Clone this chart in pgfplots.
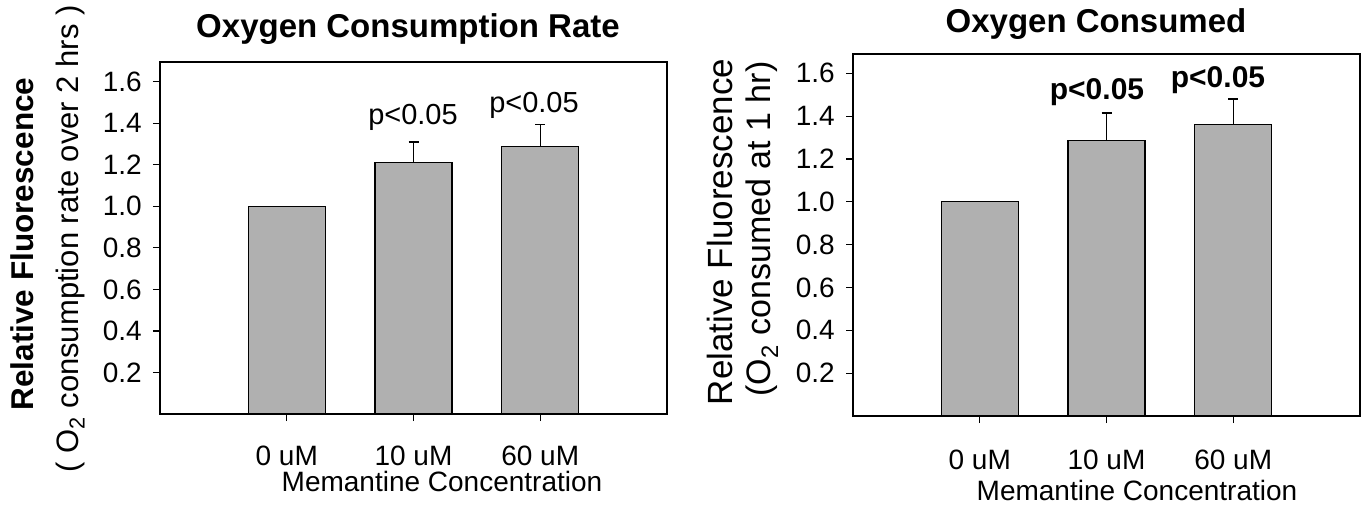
\documentclass[border=0pt]{standalone}
\usepackage{fontspec}
\setmainfont{Liberation Sans}
\usepackage{pgfplots}
\pgfplotsset{compat=1.18}
\definecolor{barg}{RGB}{176,176,176}
\begin{document}
\begin{tikzpicture}[x=1pt,y=1pt]
\path[use as bounding box] (0,0) rectangle (1363,504);
\pgfplotsset{
 myax/.style={
  scale only axis, anchor=south west, width=507pt,
  xmin=0, xmax=4, ymin=0,
  xtick={1,2,3}, xticklabels={0 uM,10 uM,60 uM},
  ytick={0.2,0.4,0.6,0.8,1.0,1.2,1.4,1.6},
  /pgf/number format/assume math mode=true,
  yticklabel style={/pgf/number format/fixed, /pgf/number format/fixed zerofill, /pgf/number format/precision=1, font=\fontsize{28}{28}\selectfont, inner sep=0pt, anchor=east, xshift=-11pt},
  xticklabel style={font=\fontsize{28}{28}\selectfont, inner sep=0pt, anchor=base},
  tick align=outside, xtick pos=bottom, ytick pos=left,
  major tick length=7pt,
  axis line style={line width=1.5pt},
  tick style={line width=1.2pt, black},
  clip=false,
 },
 mybar/.style={ybar, bar width=77pt, fill=barg, draw=black, line width=1.2pt,
  error bars/.cd, y dir=plus, y explicit,
  error bar style={line width=1.2pt, black},
  error mark options={rotate=90, mark size=5pt, line width=1.2pt, black}},
}
\begin{axis}[myax, at={(160pt,90pt)}, height=352pt, ymax=1.695,
  xticklabel style={yshift=-44pt}]
\addplot[mybar] coordinates {(1,1.00) +- (0,0) (2,1.21) +- (0,0.10) (3,1.29) +- (0,0.105)};
\end{axis}
\begin{axis}[myax, at={(853pt,88pt)}, height=362pt, ymax=1.69,
  xticklabel style={yshift=-46pt}]
\addplot[mybar] coordinates {(1,1.00) +- (0,0) (2,1.285) +- (0,0.13) (3,1.36) +- (0,0.12)};
\end{axis}
% titles
\node[anchor=base, font=\bfseries\fontsize{33}{33}\selectfont] at (408,466) {Oxygen Consumption Rate};
\node[anchor=base, font=\bfseries\fontsize{33}{33}\selectfont] at (1096,471) {Oxygen Consumed};
% y labels
\node[rotate=90, anchor=base, font=\bfseries\fontsize{31.5}{31.5}\selectfont] at (33,260) {Relative Fluorescence};
\node[rotate=90, anchor=base, font=\fontsize{31}{31}\selectfont] at (78,265) {( O\textsubscript{2} consumption rate over 2 hrs )};
\node[rotate=90, anchor=base, font=\fontsize{35}{35}\selectfont] at (732,272) {Relative Fluorescence};
\node[rotate=90, anchor=base, font=\fontsize{34}{34}\selectfont] at (770,275) {(O\textsubscript{2} consumed at 1 hr)};
% x labels
\node[anchor=base, font=\fontsize{28}{28}\selectfont] at (442,13) {Memantine Concentration};
\node[anchor=base, font=\fontsize{28}{28}\selectfont] at (1137,4) {Memantine Concentration};
% significance
\node[anchor=base, font=\fontsize{29}{29}\selectfont] at (413,379) {p<0.05};
\node[anchor=base, font=\fontsize{29}{29}\selectfont] at (534,391) {p<0.05};
\node[anchor=base, font=\bfseries\fontsize{30}{30}\selectfont] at (1097,404) {p<0.05};
\node[anchor=base, font=\bfseries\fontsize{30}{30}\selectfont] at (1218,416) {p<0.05};
\end{tikzpicture}
\end{document}
